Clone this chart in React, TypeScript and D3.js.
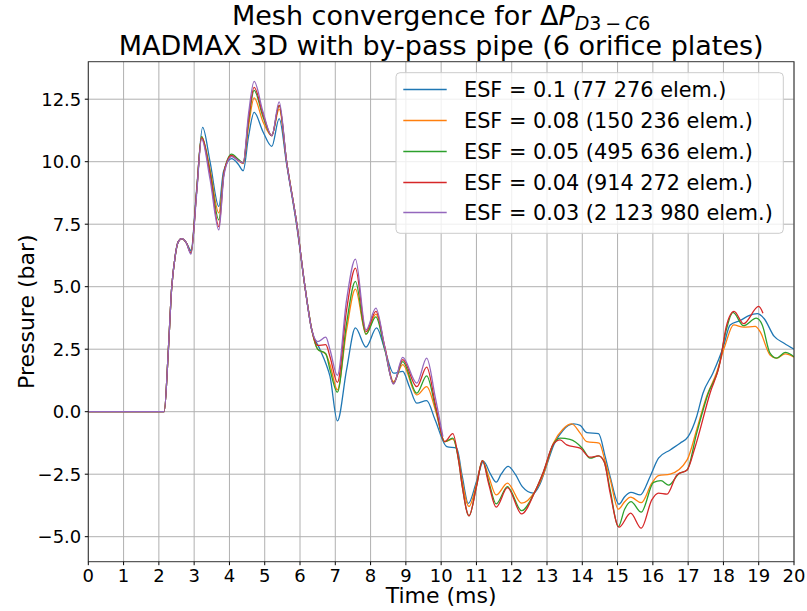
import React from "react";
import * as d3 from "d3";

type Pt = [number, number];

const labels = [
  "ESF = 0.1 (77 276 elem.)",
  "ESF = 0.08 (150 236 elem.)",
  "ESF = 0.05 (495 636 elem.)",
  "ESF = 0.04 (914 272 elem.)",
  "ESF = 0.03 (2 123 980 elem.)",
];
const colors = ["#1f77b4", "#ff7f0e", "#2ca02c", "#d62728", "#9467bd"];

const xTicks = d3.range(0, 21, 1);
const yTicks = [-5.0, -2.5, 0.0, 2.5, 5.0, 7.5, 10.0, 12.5];

const startSeg: Pt[] = [
  [0, 0], [1, 0], [2.15, 0], [2.27, 2.5], [2.36, 4.9], [2.46, 6.2], [2.55, 6.8], [2.65, 6.92], [2.78, 6.75],
];

const esf010: Pt[] = [
  ...startSeg,
  [2.91, 6.45], [3.07, 8.9], [3.24, 11.37], [3.45, 10.0], [3.70, 8.21], [3.83, 9.6], [4.06, 10.12], [4.25, 9.9],
  [4.39, 9.64], [4.54, 11.0], [4.70, 11.97], [4.95, 11.2], [5.20, 10.61], [5.41, 11.72], [5.62, 9.9], [5.91, 7.4],
  [6.14, 5.0], [6.33, 3.27], [6.55, 2.54], [6.73, 1.94], [6.85, 1.41], [7.06, -0.37], [7.32, 1.68], [7.57, 3.35],
  [7.87, 2.58], [8.17, 3.35], [8.4, 2.5], [8.65, 1.54], [8.91, 1.61], [9.1, 1.0], [9.31, 0.34], [9.59, 0.44],
  [9.83, -0.33], [10.16, -1.4], [10.44, -1.46], [10.6, -2.6], [10.77, -3.67], [11.0, -2.8], [11.2, -1.99],
  [11.4, -2.5], [11.56, -2.82], [11.7, -2.5], [11.9, -2.19], [12.1, -2.5], [12.3, -3.0], [12.61, -3.26],
  [12.8, -2.9], [13.0, -2.1], [13.2, -1.3], [13.45, -0.75], [13.75, -0.49], [13.94, -0.55], [14.13, -0.84],
  [14.46, -0.88], [14.65, -1.8], [14.79, -2.6], [15.04, -3.7], [15.2, -3.4], [15.38, -3.23], [15.64, -3.33],
  [15.92, -2.6], [16.16, -1.86], [16.49, -1.53], [16.77, -1.26], [17.0, -1.0], [17.24, -0.2], [17.42, 0.74],
  [17.7, 1.54], [18.0, 2.61], [18.19, 3.47], [18.48, 3.65], [18.72, 3.84], [18.96, 3.92], [19.15, 3.73],
  [19.44, 3.01], [19.72, 2.74], [20, 2.5],
];

const esf008: Pt[] = [
  ...startSeg,
  [2.91, 6.35], [3.07, 8.8], [3.21, 11.0], [3.45, 9.7], [3.70, 7.95], [3.85, 9.6], [4.06, 10.22], [4.25, 10.05],
  [4.39, 9.92], [4.54, 11.4], [4.70, 12.55], [4.95, 11.6], [5.20, 11.04], [5.41, 12.1], [5.62, 10.0], [5.91, 7.5],
  [6.14, 5.0], [6.33, 3.3], [6.5, 2.5], [6.73, 2.3], [6.85, 1.88], [7.06, 0.87], [7.32, 3.27], [7.57, 4.9],
  [7.87, 3.1], [8.15, 3.9], [8.4, 2.6], [8.65, 1.2], [8.91, 1.88], [9.31, 0.67], [9.59, 1.0], [9.85, 0.0],
  [10.1, -1.2], [10.33, -1.1], [10.5, -1.9], [10.6, -2.8], [10.79, -3.79], [11.0, -2.9], [11.17, -1.96],
  [11.35, -2.6], [11.56, -3.33], [11.88, -2.86], [12.28, -3.66], [12.66, -3.19], [12.9, -2.5], [13.18, -1.26],
  [13.45, -0.7], [13.70, -0.49], [13.94, -0.86], [14.13, -1.2], [14.48, -1.26], [14.65, -2.0], [14.79, -2.7],
  [15.02, -3.9], [15.2, -3.6], [15.37, -3.42], [15.67, -3.64], [15.97, -2.86], [16.16, -2.56], [16.49, -2.5],
  [16.97, -1.93], [17.24, -0.73], [17.52, 0.6], [17.8, 1.54], [18.05, 2.67], [18.29, 3.47], [18.57, 3.38],
  [18.9, 3.41], [19.04, 3.2], [19.32, 2.27], [19.51, 2.14], [19.75, 2.31], [20, 2.18],
];

const esf005: Pt[] = [
  ...startSeg,
  [2.91, 6.35], [3.07, 8.8], [3.21, 11.0], [3.45, 9.6], [3.70, 7.67], [3.85, 9.6], [4.06, 10.3], [4.25, 10.1],
  [4.39, 9.95], [4.54, 11.6], [4.70, 12.85], [4.95, 11.8], [5.20, 11.04], [5.41, 12.25], [5.62, 10.0], [5.91, 7.5],
  [6.14, 5.0], [6.33, 3.3], [6.5, 2.5], [6.73, 2.32], [6.85, 1.68], [7.06, 0.78], [7.32, 3.54], [7.57, 5.21],
  [7.87, 3.1], [8.15, 3.79], [8.4, 2.5], [8.65, 1.14], [8.91, 2.0], [9.31, 0.74], [9.59, 1.43], [9.85, 0.1],
  [10.1, -1.2], [10.33, -1.06], [10.5, -2.0], [10.6, -3.0], [10.79, -4.17], [11.0, -3.0], [11.17, -1.96],
  [11.35, -2.8], [11.56, -3.69], [11.88, -3.0], [12.28, -3.96], [12.66, -3.19], [12.9, -2.4], [13.18, -1.3],
  [13.37, -1.06], [13.65, -1.11], [14.0, -1.46], [14.22, -1.86], [14.46, -1.77], [14.62, -2.0], [14.79, -3.13],
  [15.02, -4.6], [15.2, -3.9], [15.38, -3.6], [15.67, -4.02], [16.02, -2.83], [16.23, -2.76], [16.45, -2.94],
  [16.73, -2.49], [16.97, -2.33], [17.24, -0.87], [17.57, 0.74], [17.85, 1.67], [18.08, 3.27], [18.27, 3.97],
  [18.57, 3.44], [18.93, 3.74], [19.1, 3.47], [19.32, 2.34], [19.51, 2.14], [19.75, 2.37], [20, 2.2],
];

const esf004: Pt[] = [
  ...startSeg,
  [2.91, 6.35], [3.07, 8.8], [3.21, 10.95], [3.45, 9.5], [3.70, 7.4], [3.85, 9.6], [4.06, 10.25], [4.25, 10.05],
  [4.39, 9.95], [4.54, 11.7], [4.70, 12.97], [4.95, 11.9], [5.20, 11.04], [5.41, 12.25], [5.62, 10.0], [5.91, 7.5],
  [6.14, 5.0], [6.33, 3.3], [6.5, 2.65], [6.73, 2.68], [6.85, 2.2], [7.06, 1.17], [7.32, 4.07], [7.57, 5.74],
  [7.87, 3.2], [8.15, 4.01], [8.4, 2.6], [8.65, 1.12], [8.91, 2.08], [9.31, 1.0], [9.59, 1.78], [9.85, 0.2],
  [10.1, -1.2], [10.33, -0.88], [10.5, -2.0], [10.6, -3.0], [10.79, -4.17], [11.0, -3.0], [11.17, -1.96],
  [11.35, -2.9], [11.56, -3.82], [11.88, -3.04], [12.28, -4.09], [12.66, -3.19], [12.9, -2.4], [13.18, -1.3],
  [13.37, -1.13], [13.56, -1.33], [13.94, -1.46], [14.22, -1.82], [14.46, -1.77], [14.62, -2.0], [14.79, -3.26],
  [15.04, -4.62], [15.37, -4.06], [15.67, -4.66], [15.97, -3.53], [16.16, -3.26], [16.4, -3.3], [16.68, -2.53],
  [16.97, -2.33], [17.2, -1.4], [17.62, 0.74], [17.9, 1.94], [18.08, 3.4], [18.3, 4.01], [18.57, 3.52],
  [19.0, 4.21], [19.12, 3.94],
];

const esf003: Pt[] = [
  ...startSeg,
  [2.91, 6.3], [3.07, 8.7], [3.21, 10.9], [3.45, 9.3], [3.70, 7.27], [3.85, 9.5], [4.06, 10.2], [4.25, 10.05],
  [4.39, 9.95], [4.54, 11.9], [4.70, 13.21], [4.95, 12.0], [5.20, 11.04], [5.41, 12.39], [5.62, 10.0], [5.91, 7.5],
  [6.14, 5.0], [6.33, 3.3], [6.5, 2.8], [6.73, 2.98], [6.85, 2.48], [7.06, 1.45], [7.32, 4.47], [7.57, 6.1],
  [7.87, 3.27], [8.15, 4.14], [8.4, 2.6], [8.65, 1.1], [8.91, 2.17], [9.31, 1.14], [9.59, 2.14], [9.83, 0.6],
  [10.05, -1.0],
];

const series: Pt[][] = [esf010, esf008, esf005, esf004, esf003];

const W = 807;
const H = 611;
const M = { left: 88.3, right: 794, top: 61.7, bottom: 561.7 };
const FONT = "'DejaVu Sans', sans-serif";

export default function App() {
  const x = d3.scaleLinear().domain([0, 20]).range([M.left, M.right]);
  const y = d3.scaleLinear().domain([-6, 14]).range([M.bottom, M.top]);
  const line = d3
    .line<Pt>()
    .x((d) => x(d[0]))
    .y((d) => y(d[1]))
    .curve(d3.curveMonotoneX);

  const fmtY = (v: number) => (v < 0 ? "\u2212" + Math.abs(v).toFixed(1) : v.toFixed(1));

  const legX = 396;
  const legY = 72.7;
  const rowH = 30.75;

  return (
    <svg
      width={W}
      height={H}
      style={{ position: "absolute", left: 0, top: 0, background: "#fff" }}
      fontFamily={FONT}
    >
      <rect x={0} y={0} width={W} height={H} fill="#fff" />
      <defs>
        <clipPath id="plot">
          <rect x={M.left} y={M.top} width={M.right - M.left} height={M.bottom - M.top} />
        </clipPath>
      </defs>
      {xTicks.map((t) => (
        <line key={"gx" + t} x1={x(t)} x2={x(t)} y1={M.top} y2={M.bottom} stroke="#b0b0b0" strokeWidth={1} />
      ))}
      {yTicks.map((t) => (
        <line key={"gy" + t} x1={M.left} x2={M.right} y1={y(t)} y2={y(t)} stroke="#b0b0b0" strokeWidth={1} />
      ))}
      <g clipPath="url(#plot)">
        {series.map((s, i) => (
          <path key={i} d={line(s) || ""} fill="none" stroke={colors[i]} strokeWidth={1.3} />
        ))}
      </g>
      <rect
        x={M.left}
        y={M.top}
        width={M.right - M.left}
        height={M.bottom - M.top}
        fill="none"
        stroke="#333"
        strokeWidth={1}
      />
      {xTicks.map((t) => (
        <g key={"xt" + t}>
          <line x1={x(t)} x2={x(t)} y1={M.bottom} y2={M.bottom + 3.5} stroke="#000" strokeWidth={1} />
          <text x={x(t)} y={M.bottom + 20} fontSize={18} textAnchor="middle" fill="#000">
            {t}
          </text>
        </g>
      ))}
      {yTicks.map((t) => (
        <g key={"yt" + t}>
          <line x1={M.left - 3.5} x2={M.left} y1={y(t)} y2={y(t)} stroke="#000" strokeWidth={1} />
          <text x={M.left - 7} y={y(t) + 6.5} fontSize={18} textAnchor="end" fill="#000">
            {fmtY(t)}
          </text>
        </g>
      ))}
      <text x={(M.left + M.right) / 2} y={603} fontSize={22} textAnchor="middle" fill="#000">
        Time (ms)
      </text>
      <text
        transform={`translate(34, ${(M.top + M.bottom) / 2}) rotate(-90)`}
        fontSize={22}
        textAnchor="middle"
        fill="#000"
      >
        Pressure (bar)
      </text>
      <text x={(M.left + M.right) / 2} y={25} fontSize={27} textAnchor="middle" fill="#000">
        <tspan>Mesh convergence for {"\u0394"}</tspan>
        <tspan fontStyle="italic">P</tspan>
        <tspan fontSize={19} dy={5} fontStyle="italic">D</tspan>
        <tspan fontSize={19}>3{"\u2009\u2212\u2009"}</tspan>
        <tspan fontSize={19} fontStyle="italic">C</tspan>
        <tspan fontSize={19}>6</tspan>
      </text>
      <text x={(M.left + M.right) / 2} y={55} fontSize={27} textAnchor="middle" fill="#000">
        MADMAX 3D with by-pass pipe (6 orifice plates)
      </text>
      <rect
        x={legX}
        y={legY}
        width={387.3}
        height={160.6}
        rx={4}
        fill="#fff"
        fillOpacity={0.8}
        stroke="#cccccc"
        strokeWidth={1}
      />
      {labels.map((lab, i) => {
        const cy = Math.round(legY + 16.6 + i * rowH) + 0.5;
        return (
          <g key={"lg" + i}>
            <line x1={403.3} x2={446.7} y1={cy} y2={cy} stroke={colors[i]} strokeWidth={1.3} />
            <text x={464} y={cy + 7.5} fontSize={20.8} fill="#000">
              {lab}
            </text>
          </g>
        );
      })}
    </svg>
  );
}
